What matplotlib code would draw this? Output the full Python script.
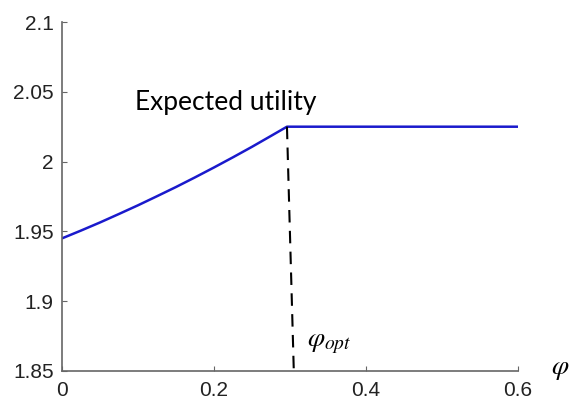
import numpy as np
import matplotlib.pyplot as plt

# expected utility vs phi
phi = [0.0, 0.025, 0.05, 0.075, 0.1, 0.125, 0.15, 0.175, 0.2, 0.225, 0.25, 0.275, 0.296,
       0.35, 0.4, 0.45, 0.5, 0.55, 0.6]
utility = [1.945, 1.9506, 1.9564, 1.9625, 1.9687, 1.9752, 1.9818, 1.9887, 1.9958, 2.0031,
           2.0106, 2.0184, 2.025, 2.025, 2.025, 2.025, 2.025, 2.025, 2.025]

# dashed marker for the optimum
opt_x = [0.296, 0.305]
opt_y = [2.025, 1.85]

xticks = [0, 0.2, 0.4, 0.6]
xtick_labels = ["0", "0.2", "0.4", "0.6"]
yticks = [1.85, 1.9, 1.95, 2.0, 2.05, 2.1]
ytick_labels = ["1.85", "1.9", "1.95", "2", "2.05", "2.1"]

plt.rcParams['mathtext.fontset'] = 'stix'

fig = plt.figure(figsize=(5.78, 4.05), dpi=100)
ax = fig.add_axes([62 / 578, 34 / 405, 456 / 578, 349 / 405])

ax.plot(phi, utility, color="#1a1acc", lw=1.8)
ax.plot(opt_x, opt_y, color="black", lw=1.5, dashes=(6, 4))

ax.set_xlim(0, 0.6)
ax.set_ylim(1.85, 2.1)
ax.set_xticks(xticks)
ax.set_xticklabels(xtick_labels)
ax.set_yticks(yticks)
ax.set_yticklabels(ytick_labels)

for s in ["top", "right"]:
    ax.spines[s].set_visible(False)
for s in ["left", "bottom"]:
    ax.spines[s].set_color("#666666")
    ax.spines[s].set_linewidth(1.2)
ax.tick_params(direction="in", length=3.5, color="#666666", labelsize=15,
               labelcolor="#222222")
ax.tick_params(axis="x", pad=7)
ax.tick_params(axis="y", pad=6)
for lab in ax.get_xticklabels() + ax.get_yticklabels():
    lab.set_family("Liberation Sans")

ax.text(0.216, 2.037, "Expected utility", fontsize=19, family="Lato",
        ha="center", va="baseline")
ax.text(0.322, 1.871, r"$\varphi_{opt}$", fontsize=20, ha="left", va="center")
ax.text(0.655, 1.852, r"$\varphi$", fontsize=20, ha="center", va="center",
        clip_on=False)

fig.savefig("out.png", dpi=100)
